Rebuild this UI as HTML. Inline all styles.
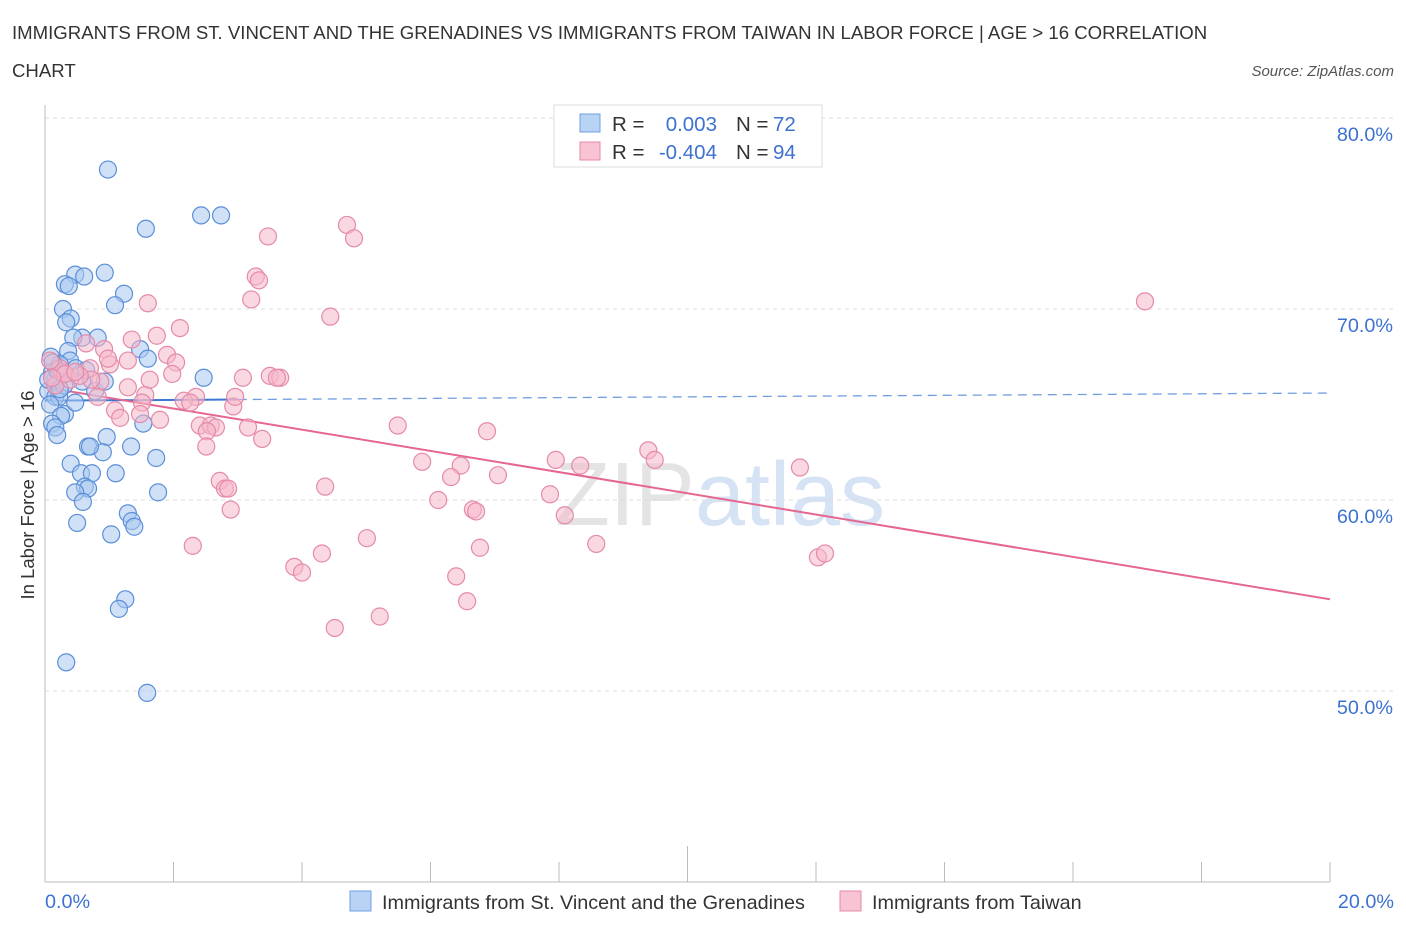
<!DOCTYPE html>
<html><head><meta charset="utf-8"><style>
body{margin:0;background:#fff;font-family:"Liberation Sans",sans-serif;}
svg text{font-family:"Liberation Sans",sans-serif;}
</style></head><body>
<svg id="c" width="1406" height="930" xmlns="http://www.w3.org/2000/svg">
<text x="12" y="39" font-size="18.6" fill="#333">IMMIGRANTS FROM ST. VINCENT AND THE GRENADINES VS IMMIGRANTS FROM TAIWAN IN LABOR FORCE | AGE &gt; 16 CORRELATION</text>
<text x="12" y="77" font-size="18.6" fill="#333">CHART</text>
<text x="1394" y="76" font-size="15" fill="#555" font-style="italic" text-anchor="end">Source: ZipAtlas.com</text>
<text x="720" y="525" font-size="90" fill="#e4e4e4" text-anchor="middle" font-family="Liberation Serif">ZIP<tspan fill="#d6e3f4" font-family="Liberation Sans">atlas</tspan></text>
<g id="grid"></g>
<g id="axes"></g>
<g id="lines"></g>
<g id="pts"></g>
<text transform="translate(34,495) rotate(-90)" font-size="18.5" fill="#333" text-anchor="middle">In Labor Force | Age &gt; 16</text>
<g>
<rect x="554" y="105" width="268" height="62" fill="#fff" stroke="#ddd"/>
<rect x="580" y="114" width="20" height="18" fill="#b9d3f4" stroke="#6f9fe0"/>
<rect x="580" y="142" width="20" height="18" fill="#f8c4d3" stroke="#e88aa8"/>
<text x="612" y="131" font-size="20.5" fill="#333">R =</text>
<text x="717" y="131" font-size="20.5" fill="#3d72d0" text-anchor="end">0.003</text>
<text x="736" y="131" font-size="20.5" fill="#333">N =</text>
<text x="773" y="131" font-size="20.5" fill="#3d72d0">72</text>
<text x="612" y="159" font-size="20.5" fill="#333">R =</text>
<text x="717" y="159" font-size="20.5" fill="#3d72d0" text-anchor="end">-0.404</text>
<text x="736" y="159" font-size="20.5" fill="#333">N =</text>
<text x="773" y="159" font-size="20.5" fill="#3d72d0">94</text>
</g>
<g>
<rect x="350" y="891" width="21" height="20" fill="#b9d3f4" stroke="#6f9fe0"/>
<text x="382" y="909" font-size="19.8" fill="#333">Immigrants from St. Vincent and the Grenadines</text>
<rect x="840" y="891" width="21" height="20" fill="#f8c4d3" stroke="#e88aa8"/>
<text x="872" y="909" font-size="19.8" fill="#333">Immigrants from Taiwan</text>
</g>
</svg>
<script>
const yTicks=[50,60,70,80];
const xTickLabels=["0.0%","20.0%"];
const blueX=[0.98,1.57,2.43,2.74,0.47,0.61,0.93,0.31,0.37,1.23,1.09,0.28,0.40,0.33,0.58,0.82,0.44,1.48,0.36,1.60,0.09,0.39,0.23,0.48,2.47,0.11,0.23,0.16,0.58,0.78,0.93,0.05,0.16,0.22,0.08,0.31,0.25,1.53,0.11,0.16,0.19,0.96,0.67,1.34,0.90,1.73,0.40,0.56,0.73,1.10,0.62,0.67,0.47,1.76,0.59,1.29,0.50,1.35,1.39,1.03,1.25,1.15,0.33,1.59,0.05,0.19,0.30,0.23,0.64,0.12,0.47,0.70];
const blueY=[77.3,74.2,74.9,74.9,71.8,71.7,71.9,71.3,71.2,70.8,70.2,70.0,69.5,69.3,68.5,68.5,68.5,67.9,67.8,67.4,67.5,67.3,67.1,66.9,66.4,66.7,66.5,66.3,66.2,65.7,66.2,65.7,65.4,65.4,65.0,64.5,64.4,64.0,64.0,63.8,63.4,63.3,62.8,62.8,62.5,62.2,61.9,61.4,61.4,61.4,60.7,60.6,60.4,60.4,59.9,59.3,58.8,58.9,58.6,58.2,54.8,54.3,51.5,49.9,66.3,66.8,66.0,65.8,66.8,67.2,65.1,62.8];
const pinkX=[4.70,3.47,4.81,3.28,3.33,3.21,1.60,4.44,2.10,1.74,1.35,0.64,0.92,1.29,1.90,2.04,1.01,0.70,3.50,3.66,3.61,3.08,1.98,0.86,1.29,2.35,2.16,2.26,1.56,1.51,2.93,1.09,2.96,0.16,0.28,0.39,0.72,1.79,2.41,2.58,2.66,3.16,2.52,3.38,5.49,6.88,2.51,5.87,6.47,7.95,8.33,9.39,9.49,11.75,7.05,2.72,2.80,2.85,4.36,6.32,6.12,7.86,6.66,6.71,2.89,8.09,2.30,5.01,4.31,6.77,8.58,3.88,4.00,6.40,12.03,12.14,6.57,4.51,5.21,17.12,0.23,0.31,0.11,0.54,1.17,0.82,0.47,1.48,1.63,0.98,0.08];
const pinkY=[74.4,73.8,73.7,71.7,71.5,70.5,70.3,69.6,69.0,68.6,68.4,68.2,67.9,67.3,67.6,67.2,67.1,66.9,66.5,66.4,66.4,66.4,66.6,66.2,65.9,65.4,65.2,65.1,65.5,65.1,64.9,64.7,65.4,66.0,66.7,66.3,66.3,64.2,63.9,63.9,63.8,63.8,63.6,63.2,63.9,63.6,62.8,62.0,61.8,62.1,61.8,62.6,62.1,61.7,61.3,61.0,60.6,60.6,60.7,61.2,60.0,60.3,59.5,59.4,59.5,59.2,57.6,58.0,57.2,57.5,57.7,56.5,56.2,56.0,57.0,57.2,54.7,53.3,53.9,70.4,66.9,66.6,66.4,66.5,64.3,65.4,66.7,64.5,66.3,67.4,67.3];
const blueTrend=[65.2,65.6];
const pinkTrend=[65.9,54.8];
const NS="http://www.w3.org/2000/svg";
function X(v){return 45+v/20*1285;}
function Y(v){return 118+(80-v)*19.1;}
function mk(t,a,p){const e=document.createElementNS(NS,t);for(const k in a)e.setAttribute(k,a[k]);if(p)document.getElementById(p).appendChild(e);return e;}
yTicks.forEach(t=>{
  const g=mk('line',{x1:45,x2:1395,y1:Y(t),y2:Y(t),stroke:'#ddd','stroke-dasharray':'4,4'},'grid');
  
  
  const tx=mk('text',{x:1393,y:Y(t)+23,'font-size':19.8,fill:'#3d72d0','text-anchor':'end'},'grid');
  tx.textContent=t.toFixed(1)+'%';
  
  
});
mk('line',{x1:45,x2:45,y1:105,y2:882,stroke:'#bbb'},'axes');
mk('line',{x1:45,x2:1330,y1:882,y2:882,stroke:'#bbb'},'axes');
for(let i=0;i<=10;i++){const x=X(i*2);const l=mk('line',{x1:x,x2:x,y1:i==5?846:862,y2:882,stroke:'#bbb'},'axes');
  
  }
[[0,'start',45],[20,'end',1394]].forEach((d,i)=>{const t=mk('text',{x:d[2],y:908,'font-size':19.8,fill:'#3d72d0','text-anchor':d[1]},'axes');t.textContent=xTickLabels[i];
  
  });
function dots(xs,ys,fill,stroke,name){xs.forEach((x,i)=>{const c=mk('circle',{cx:X(x),cy:Y(ys[i]),r:8.5,fill:fill,'fill-opacity':0.55,stroke:stroke,'stroke-width':1.2},'pts');
  
  });}
dots(blueX,blueY,'#a9c8f0','#5b8fd8','point-stvincent');
dots(pinkX,pinkY,'#f6b8cb','#e58aa8','point-taiwan');
const bm=blueTrend[0]+(blueTrend[1]-blueTrend[0])*(3/20);
let l=mk('line',{x1:X(0),y1:Y(blueTrend[0]),x2:X(3),y2:Y(bm),stroke:'#3a78d4','stroke-width':2},'lines');


l=mk('line',{x1:X(3),y1:Y(bm),x2:X(20)-3,y2:Y(blueTrend[1]),stroke:'#6f9fe0','stroke-width':1.3,'stroke-dasharray':'9,6'},'lines');


l=mk('line',{x1:X(0),y1:Y(pinkTrend[0]),x2:X(20),y2:Y(pinkTrend[1]),stroke:'#e5668f','stroke-width':2},'lines');


</script>
</body></html>
